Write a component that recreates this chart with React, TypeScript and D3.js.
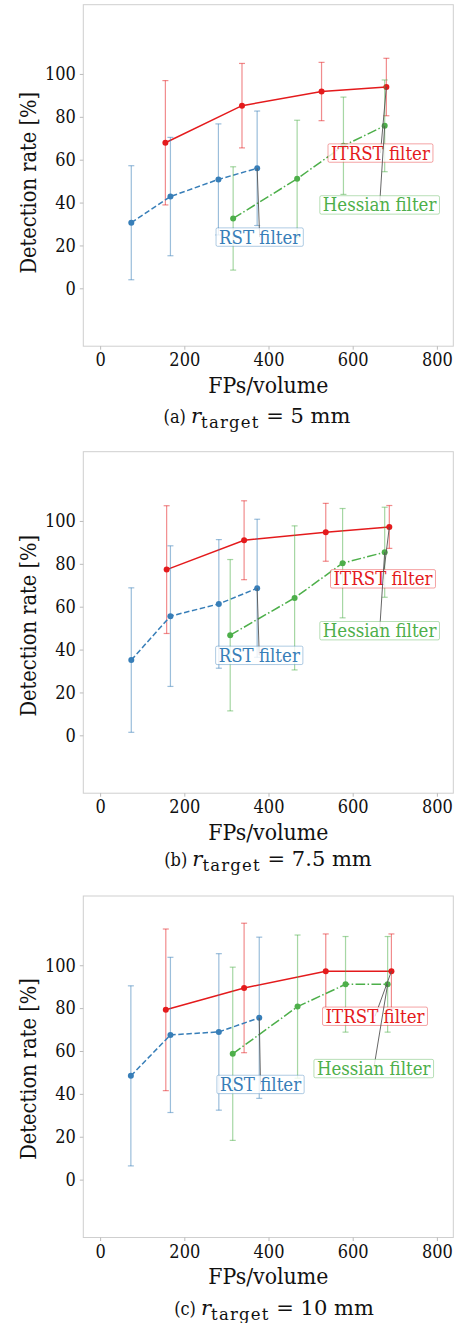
import React, { useEffect, useRef } from "react";
import * as d3 from "d3";

const xTicks = [0, 200, 400, 600, 800];
const yTicks = [0, 20, 40, 60, 80, 100];
const seriesNames = ["ITRST filter", "Hessian filter", "RST filter"];
const seriesColors = ["#e41a1c", "#4daf4a", "#377eb8"];
const tags = ["(a)", "(b)", "(c)"];
const radii = ["5", "7.5", "10"];

// (a) r_target = 5 mm
const itrstX_a = [155, 337, 526, 680];
const itrstY_a = [67.9, 85.2, 91.8, 93.9];
const itrstE_a = [29, 19.7, 13.6, 13.4];
const hessX_a = [316, 468, 578, 676];
const hessY_a = [32.6, 51.1, 66.5, 75.8];
const hessE_a = [24.1, 27.3, 22.7, 21.4];
const rstX_a = [74, 167, 281, 373];
const rstY_a = [30.6, 42.8, 50.8, 56.0];
const rstE_a = [26.6, 27.6, 25.9, 26.7];

// (b) r_target = 7.5 mm
const itrstX_b = [158, 342, 536, 687];
const itrstY_b = [77.3, 91.0, 94.7, 97.2];
const itrstE_b = [29.8, 18.4, 13.5, 10.0];
const hessX_b = [309, 462, 576, 676];
const hessY_b = [46.7, 64.1, 80.3, 85.4];
const hessE_b = [35.3, 33.6, 25.5, 21.0];
const rstX_b = [74, 167, 282, 373];
const rstY_b = [35.1, 55.6, 61.3, 68.6];
const rstE_b = [33.7, 32.8, 30.0, 32.2];

// (c) r_target = 10 mm
const itrstX_c = [156, 342, 536, 692];
const itrstY_c = [79.2, 89.4, 97.2, 97.2];
const itrstE_c = [37.7, 30.2, 17.4, 17.4];
const hessX_c = [315, 469, 583, 683];
const hessY_c = [58.7, 80.7, 91.1, 91.1];
const hessE_c = [40.4, 33.4, 22.3, 22.3];
const rstX_c = [73, 167, 282, 378];
const rstY_c = [48.4, 67.5, 68.9, 75.5];
const rstE_c = [42, 36.2, 36.5, 37.6];

// label anchors (data coords) for ITRST, Hessian, RST
const labelX_a = [666, 664, 379];
const labelY_a = [63.1, 38.9, 23.9];
const labelX_b = [672, 664, 378];
const labelY_b = [73.0, 48.8, 37.3];
const labelX_c = [653, 650, 381];
const labelY_c = [76.2, 51.8, 44.4];

const panels = [
  {
    series: [
      { x: itrstX_a, y: itrstY_a, e: itrstE_a },
      { x: hessX_a, y: hessY_a, e: hessE_a },
      { x: rstX_a, y: rstY_a, e: rstE_a },
    ],
    lx: labelX_a, ly: labelY_a,
  },
  {
    series: [
      { x: itrstX_b, y: itrstY_b, e: itrstE_b },
      { x: hessX_b, y: hessY_b, e: hessE_b },
      { x: rstX_b, y: rstY_b, e: rstE_b },
    ],
    lx: labelX_b, ly: labelY_b,
  },
  {
    series: [
      { x: itrstX_c, y: itrstY_c, e: itrstE_c },
      { x: hessX_c, y: hessY_c, e: hessE_c },
      { x: rstX_c, y: rstY_c, e: rstE_c },
    ],
    lx: labelX_c, ly: labelY_c,
  },
];

const W = 455, H = 1323;
const frameLeft = 83.3, frameW = 370, frameH = 341.5;
const frameTops = [4.7, 451.7, 896];
const ylabelOffset = [178, 174, 173];
const captionY = [423, 866, 1315];
const captionCx = [257, 268, 274];
const dashes = [null, "9.6,2.4,1.5,2.4", "5.5,2.6"];
const serif = "DejaVu Serif Condensed, DejaVu Serif";
const mathFont = "DejaVu Serif";

export default function App() {
  const ref = useRef<SVGSVGElement>(null);

  useEffect(() => {
    const svg = d3.select(ref.current);
    svg.selectAll("*").remove();
    svg.append("rect").attr("width", W).attr("height", H).attr("fill", "#fff");

    panels.forEach((p, pi) => {
      const top = frameTops[pi];
      const x = d3.scaleLinear().domain([-40, 839]).range([frameLeft, frameLeft + frameW]);
      const y = d3.scaleLinear().domain([-27, 132.3]).range([top + frameH, top]);
      const g = svg.append("g").attr("font-stretch", "condensed");

      g.append("rect")
        .attr("x", frameLeft).attr("y", top)
        .attr("width", frameW).attr("height", frameH)
        .attr("fill", "none").attr("stroke", "#cfcfcf").attr("stroke-width", 1);

      const xa = g.append("g")
        .attr("transform", `translate(0,${top + frameH})`)
        .call(d3.axisBottom(x).tickValues(xTicks).tickSize(3.5).tickPadding(4));
      const ya = g.append("g")
        .attr("transform", `translate(${frameLeft},0)`)
        .call(d3.axisLeft(y).tickValues(yTicks).tickSize(3.5).tickPadding(4));
      [xa, ya].forEach((a) => {
        a.attr("font-family", serif).attr("font-size", 18);
        a.select(".domain").remove();
        a.selectAll("line").attr("stroke", "#bbb");
        a.selectAll("text").attr("fill", "#111");
      });

      g.append("text")
        .attr("transform", `translate(35.7,${top + ylabelOffset[pi]}) rotate(-90)`)
        .attr("text-anchor", "middle")
        .attr("font-family", serif).attr("font-size", 21.6)
        .attr("fill", "#111")
        .text("Detection rate [%]");
      g.append("text")
        .attr("x", frameLeft + frameW / 2).attr("y", top + frameH + 46.4)
        .attr("text-anchor", "middle")
        .attr("font-family", serif).attr("font-size", 22.8)
        .attr("fill", "#111")
        .text("FPs/volume");

      // caption
      const cap = g.append("text")
        .attr("x", captionCx[pi]).attr("y", captionY[pi])
        .attr("text-anchor", "middle")
        .attr("fill", "#111")
        .attr("font-stretch", "normal")
        .style("white-space", "pre");
      cap.append("tspan").attr("font-family", serif).attr("font-stretch", "condensed").attr("font-size", 18).text(tags[pi] + " ");
      cap.append("tspan").attr("font-family", mathFont).attr("font-style", "italic").attr("font-size", 21).text("r");
      cap.append("tspan").attr("dy", 5).attr("font-family", mathFont).attr("font-size", 16.5)
        .attr("letter-spacing", 1.2).text("target");
      cap.append("tspan").attr("dy", -5).attr("font-family", mathFont).attr("font-size", 21)
        .text(" = " + radii[pi] + " mm");

      // series: draw order red, blue, green
      [0, 2, 1].forEach((si) => {
        const s = p.series[si];
        const c = seriesColors[si];
        const sg = g.append("g");
        s.x.forEach((xv, i) => {
          const lo = y(s.y[i] - s.e[i]), hi = y(s.y[i] + s.e[i]), px = x(xv);
          sg.append("line").attr("x1", px).attr("x2", px).attr("y1", lo).attr("y2", hi)
            .attr("stroke", c).attr("stroke-opacity", 0.5).attr("stroke-width", 1.2);
          [lo, hi].forEach((cy) => {
            sg.append("line").attr("x1", px - 3).attr("x2", px + 3).attr("y1", cy).attr("y2", cy)
              .attr("stroke", c).attr("stroke-opacity", 0.5).attr("stroke-width", 1.2);
          });
        });
        const pts = s.x.map((xv, i) => [xv, s.y[i]] as [number, number]);
        sg.append("path")
          .attr("d", d3.line<[number, number]>().x((d) => x(d[0])).y((d) => y(d[1]))(pts))
          .attr("fill", "none").attr("stroke", c).attr("stroke-width", 1.5)
          .attr("stroke-dasharray", dashes[si]);
        sg.selectAll("circle.m").data(pts).enter().append("circle")
          .attr("cx", (d) => x(d[0])).attr("cy", (d) => y(d[1])).attr("r", 3)
          .attr("fill", c);
      });

      // annotations
      [0, 1, 2].forEach((si) => {
        const s = p.series[si];
        const c = seriesColors[si];
        const last = s.x.length - 1;
        const cx = x(p.lx[si]), cy = y(p.ly[si]);
        g.append("line")
          .attr("x1", cx).attr("y1", cy)
          .attr("x2", x(s.x[last])).attr("y2", y(s.y[last]))
          .attr("stroke", "#555").attr("stroke-width", 0.9);
        const lg = g.append("g");
        const box = lg.append("rect");
        const t = lg.append("text")
          .attr("x", cx).attr("y", cy + 6.5)
          .attr("text-anchor", "middle")
          .attr("font-family", serif).attr("font-size", 18.5)
          .attr("fill", c)
          .text(seriesNames[si]);
        const w = (t.node() as SVGTextElement).getBBox().width;
        box.attr("x", cx - w / 2 - 3).attr("y", cy + 6.5 - 15.7)
          .attr("width", w + 6).attr("height", 18.4)
          .attr("rx", 1.5)
          .attr("fill", "#fff").attr("fill-opacity", 0.8)
          .attr("stroke", c).attr("stroke-opacity", 0.4).attr("stroke-width", 1);
      });
    });
  }, []);

  return (
    <svg ref={ref} width={W} height={H}
      style={{ position: "absolute", left: 0, top: 0, display: "block" }} />
  );
}
